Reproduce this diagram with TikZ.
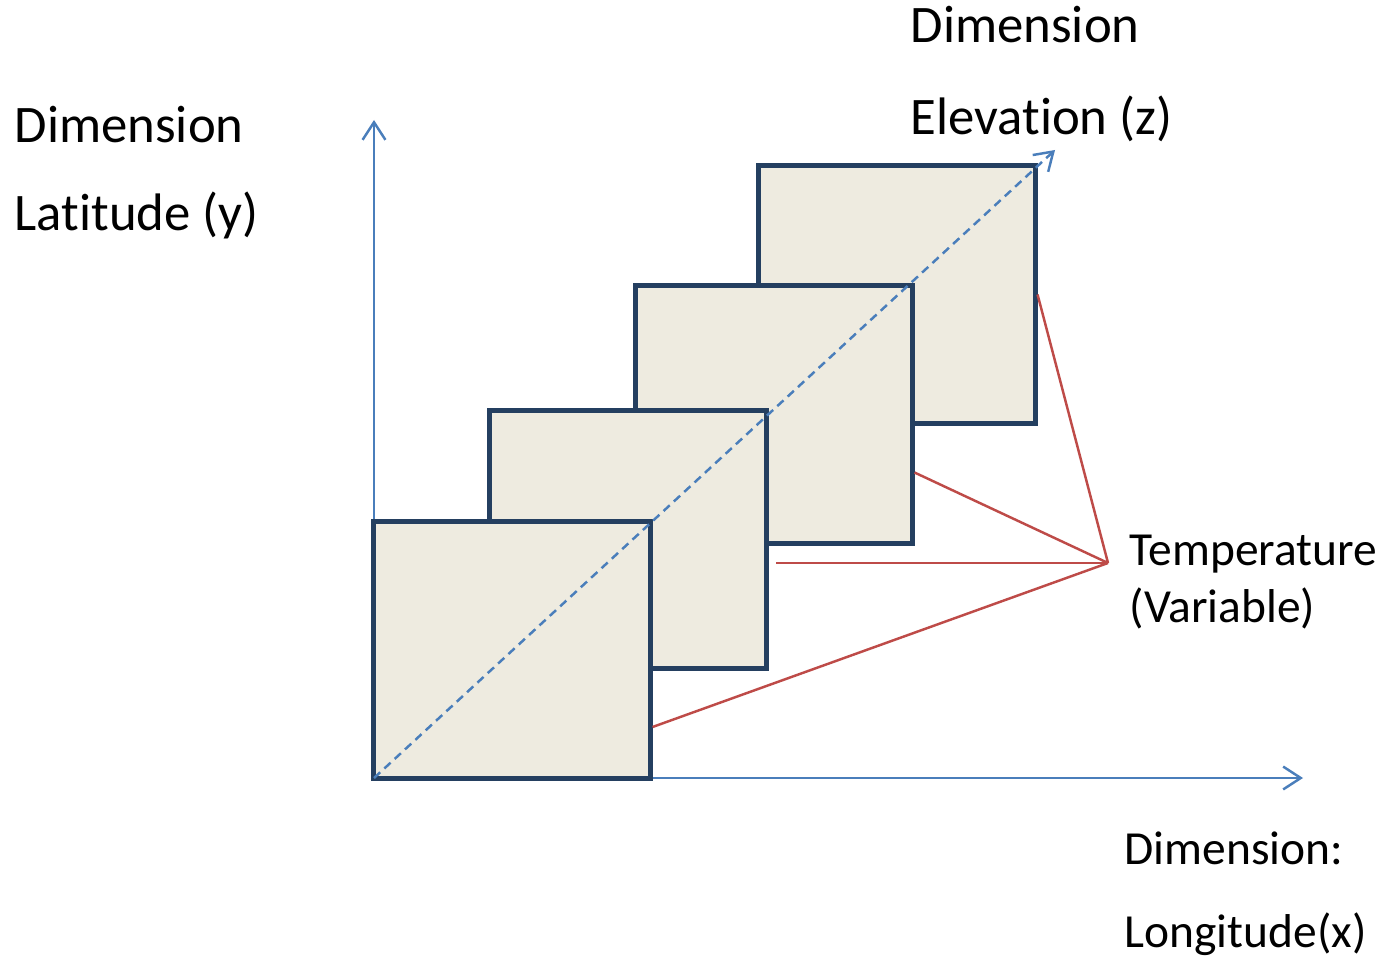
\documentclass[tikz,border=0pt]{standalone}
\usepackage{fontspec}
\setmainfont{Carlito}[Ligatures={NoCommon}]
\usepackage{xcolor}
\usetikzlibrary{arrows.meta, positioning, calc}
\definecolor{framecolor}{HTML}{243F60}
\definecolor{layercolor}{HTML}{EEEBE0}
\definecolor{axiscolor}{HTML}{4A7EBB}
\definecolor{varcolor}{HTML}{BE4B48}

\tikzset{
  layer/.style={draw=framecolor, fill=layercolor, line width=1.4pt, minimum width=2.76cm, minimum height=2.57cm, inner sep=0pt},
  axis/.style={axiscolor, line width=0.7pt, -{Straight Barb[length=5pt, width=6.5pt]}},
  label/.style={anchor=base west, inner sep=0pt, font=\fontsize{15}{18}\selectfont},
  smalllabel/.style={label, font=\fontsize{13.5}{16}\selectfont}
}

\begin{document}
\begin{tikzpicture}[x=0.01cm, y=-0.01cm]
  \useasboundingbox (0,0) rectangle (1382,958);

  % Axes
  \coordinate (origin) at (374,778);
  \coordinate (ytip) at (374,120);
  \coordinate (xtip) at (1303,778);
  \coordinate (ztip) at (1055,150);
  \draw[axis] (origin) -- (ytip);
  \draw[axis] (origin) -- (xtip);

  % Layers, back to front
  \node[layer] (sq4) at (897,294.5) {};
  \node[layer] (sq3) at (774,414.5) {};
  \node[layer] (sq2) at (628,539.5) {};
  \node[layer] (sq1) at (512,650) {};

  % Elevation axis
  \draw[axis, dash pattern=on 2.4pt off 1.6pt] (origin) -- (ztip);

  % Variable pointers
  \coordinate (temp) at (1108,563);
  \draw[varcolor, line width=0.7pt] (temp) -- (sq4.east);
  \draw[varcolor, line width=0.7pt] (temp) -- ($(sq3.east)+(0,58)$);
  \draw[varcolor, line width=0.7pt] (temp) -- ($(sq2.east)+(7,23.5)$);
  \draw[varcolor, line width=0.7pt] (temp) -- ($(sq1.east)+(0,77)$);

  % Labels
  \node[label] (ydim) at (14,143) {Dimension};
  \node[label] (ylab) at (14,231) {Latitude (y)};
  \node[label] (zdim) at (910,43) {Dimension};
  \node[label] (zlab) at (910,135) {Elevation (z)};
  \node[smalllabel] (tname) at (1129,565) {Temperature};
  \node[smalllabel] (tvar) at (1129,622) {(Variable)};
  \node[smalllabel] (xdim) at (1124,864) {Dimension:};
  \node[smalllabel] (xlab) at (1124,947) {Longitude(x)};
\end{tikzpicture}
\end{document}
